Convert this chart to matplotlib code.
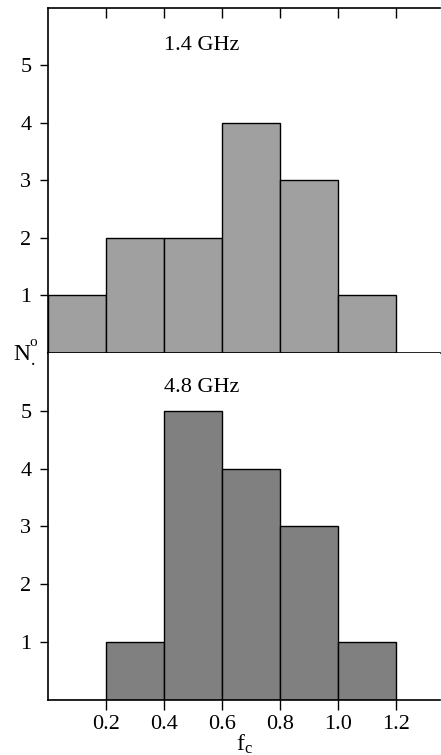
import matplotlib.pyplot as plt

plt.rcParams['font.family'] = ['Liberation Serif', 'DejaVu Serif']
plt.rcParams['mathtext.fontset'] = 'custom'
plt.rcParams['mathtext.rm'] = 'Liberation Serif'
plt.rcParams['mathtext.it'] = 'Liberation Serif'

# histogram bins (left edges) and counts
bin_edges = [0.0, 0.2, 0.4, 0.6, 0.8, 1.0]
counts_14 = [1, 2, 2, 4, 3, 1]
counts_48 = [0, 1, 5, 4, 3, 1]
xticks = [0.2, 0.4, 0.6, 0.8, 1.0, 1.2]
yticks = [1, 2, 3, 4, 5]

fig = plt.figure(figsize=(4.41, 7.55), dpi=100)
ax1 = fig.add_axes([0.109, 0.5325, 0.889, 0.457])
ax2 = fig.add_axes([0.109, 0.0728, 0.889, 0.4597])

panels = [(ax1, counts_14, "#a0a0a0", "1.4 GHz", 5.35),
          (ax2, counts_48, "#808080", "4.8 GHz", 5.4)]

for ax, counts, color, label, ly in panels:
    ax.bar(bin_edges, counts, width=0.2, align="edge", color=color,
           edgecolor="black", linewidth=1.0)
    ax.set_xlim(0, 1.352)
    ax.set_ylim(0, 6)
    ax.set_yticks(yticks)
    ax.set_xticks(xticks)
    ax.spines["right"].set_visible(False)
    for s in ax.spines.values():
        s.set_linewidth(1.2)
    ax.tick_params(axis="y", direction="out", length=6, width=1, labelsize=16, pad=6)
    ax.tick_params(axis="x", direction="out", length=7, width=1, labelsize=16)
    ax.text(0.40, ly, label, fontsize=16, va="center", ha="left")

ax1.tick_params(axis="x", top=True, labelbottom=False)
for t in ax1.xaxis.get_major_ticks():
    t.tick2line.set_marker(3)
    t.tick2line.set_markersize(7)
ax2.spines["top"].set_visible(False)
ax2.set_xticklabels([f"{v:.1f}" for v in xticks])
ax2.set_xlabel(r"f$_\mathrm{c}$", fontsize=17, labelpad=-1)

fig.text(0.050, 0.530, "N", fontsize=17, ha="center", va="center")
fig.text(0.076, 0.547, "o", fontsize=11, ha="center", va="center")
fig.text(0.076, 0.522, ".", fontsize=13, ha="center", va="center")

fig.savefig("out.png", dpi=100)
